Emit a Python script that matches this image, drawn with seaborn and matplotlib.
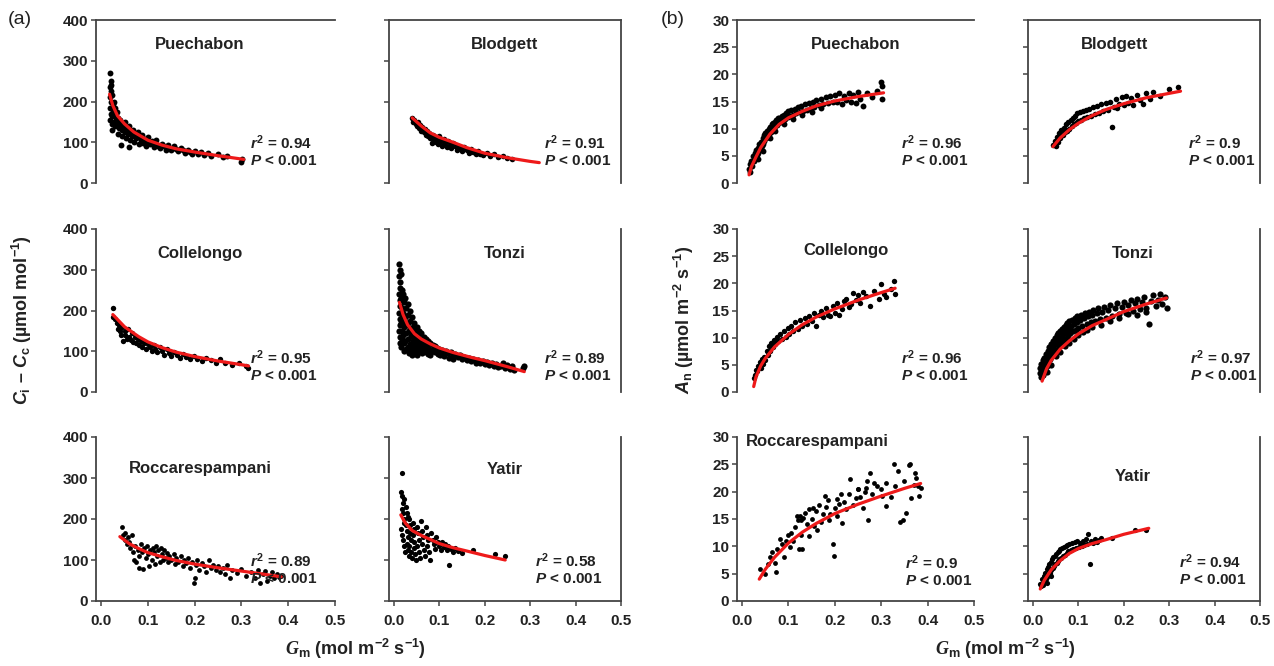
"""
Recreation of the Gm response panels: (a) Ci - Cc and (b) An against mesophyll
conductance for six sites, with fitted curves.
"""

import matplotlib
matplotlib.use("Agg")
import matplotlib.pyplot as plt
import seaborn as sns

# ── Data ────────────────────────────────────────────────────────────────────
SITES = ["Puechabon", "Blodgett", "Collelongo", "Tonzi", "Roccarespampani", "Yatir"]
R2_A = ["0.94", "0.91", "0.95", "0.89", "0.89", "0.58"]
R2_B = ["0.96", "0.9", "0.96", "0.97", "0.9", "0.94"]
X_TICKS = [0.0, 0.1, 0.2, 0.3, 0.4, 0.5]
X_TICK_LABELS = ["0.0", "0.1", "0.2", "0.3", "0.4", "0.5"]
Y_TICKS_A = [0, 100, 200, 300, 400]
Y_TICKS_B = [0, 5, 10, 15, 20, 25, 30]

# (a) Ci - Cc, Puechabon
pue_a_x = [0.020, 0.021, 0.019, 0.022, 0.020, 0.021, 0.019, 0.022, 0.020, 0.023, 0.022, 0.024, 0.025, 0.026,
           0.024, 0.027, 0.023, 0.028, 0.030, 0.030, 0.032, 0.029, 0.033, 0.035, 0.035, 0.037, 0.038, 0.036,
           0.040, 0.042, 0.044, 0.046, 0.045, 0.048, 0.050, 0.052, 0.053, 0.055, 0.058, 0.060, 0.062, 0.064,
           0.066, 0.068, 0.070, 0.072, 0.075, 0.078, 0.080, 0.082, 0.085, 0.088, 0.090, 0.093, 0.095, 0.098,
           0.100, 0.104, 0.108, 0.112, 0.115, 0.118, 0.122, 0.126, 0.130, 0.134, 0.138, 0.142, 0.146, 0.150,
           0.155, 0.160, 0.165, 0.170, 0.175, 0.180, 0.185, 0.190, 0.195, 0.200, 0.207, 0.213, 0.220, 0.228,
           0.235, 0.250, 0.260, 0.270, 0.300, 0.302, 0.043, 0.060]
pue_a_y = [270, 250, 235, 225, 210, 200, 185, 170, 155, 145, 240, 215, 195, 180,
           165, 150, 130, 200, 185, 170, 160, 140, 175, 160, 145, 150, 135, 120,
           155, 140, 130, 145, 115, 135, 125, 150, 110, 130, 120, 140, 105, 125,
           115, 130, 100, 118, 110, 125, 95, 112, 105, 118, 98, 108, 90, 103,
           112, 95, 102, 88, 98, 106, 92, 85, 96, 90, 82, 93, 86, 80,
           90, 84, 78, 86, 80, 74, 82, 77, 72, 79, 70, 76, 68, 73,
           66, 70, 64, 67, 52, 58, 93, 88]
pue_a_fit_x = [0.018, 0.025, 0.035, 0.05, 0.07, 0.1, 0.13, 0.16, 0.2, 0.25, 0.305]
pue_a_fit_y = [218, 190, 165, 145, 125, 105, 93, 84, 76, 67, 58]

# (a) Ci - Cc, Blodgett
blo_a_x = [0.040, 0.042, 0.045, 0.048, 0.050, 0.052, 0.055, 0.058, 0.060, 0.062, 0.065, 0.068, 0.070, 0.072,
           0.075, 0.078, 0.080, 0.083, 0.085, 0.088, 0.090, 0.093, 0.095, 0.098, 0.100, 0.103, 0.106, 0.110,
           0.113, 0.116, 0.120, 0.123, 0.126, 0.130, 0.134, 0.138, 0.142, 0.146, 0.150, 0.155, 0.160, 0.165,
           0.170, 0.175, 0.180, 0.185, 0.190, 0.197, 0.205, 0.212, 0.220, 0.230, 0.240, 0.250, 0.260]
blo_a_y = [160, 150, 155, 145, 140, 150, 135, 142, 128, 138, 125, 132, 118, 128,
           115, 122, 110, 98, 118, 105, 112, 100, 108, 95, 115, 103, 92, 108,
           98, 88, 102, 94, 85, 98, 90, 82, 92, 85, 78, 88, 80, 74,
           84, 76, 70, 78, 72, 68, 74, 66, 70, 64, 67, 62, 60]
blo_a_fit_x = [0.04, 0.06, 0.08, 0.1, 0.13, 0.16, 0.2, 0.25, 0.3, 0.32]
blo_a_fit_y = [160, 140, 123, 112, 100, 87, 73, 62, 53, 50]

# (a) Ci - Cc, Collelongo
col_a_x = [0.025, 0.026, 0.030, 0.033, 0.035, 0.038, 0.040, 0.042, 0.045, 0.047, 0.050, 0.052, 0.055, 0.058,
           0.060, 0.063, 0.066, 0.069, 0.072, 0.075, 0.078, 0.082, 0.085, 0.088, 0.092, 0.096, 0.100, 0.104,
           0.108, 0.112, 0.116, 0.120, 0.125, 0.130, 0.135, 0.140, 0.145, 0.150, 0.156, 0.162, 0.168, 0.175,
           0.182, 0.190, 0.198, 0.205, 0.215, 0.225, 0.235, 0.245, 0.255, 0.265, 0.280, 0.295, 0.310, 0.315]
col_a_y = [205, 185, 180, 170, 155, 165, 150, 140, 160, 125, 150, 140, 130, 155,
           135, 128, 145, 122, 135, 120, 130, 115, 125, 110, 120, 105, 118, 110,
           100, 115, 105, 98, 110, 100, 92, 105, 95, 88, 98, 90, 84, 94,
           86, 80, 88, 82, 76, 84, 78, 72, 80, 70, 66, 72, 65, 60]
col_a_fit_x = [0.025, 0.05, 0.08, 0.1, 0.13, 0.16, 0.2, 0.25, 0.3, 0.315]
col_a_fit_y = [190, 160, 136, 123, 109, 98, 87, 76, 67, 64]

# (a) Ci - Cc, Tonzi
ton_a_x = [0.012, 0.013, 0.012, 0.014, 0.013, 0.012, 0.014, 0.013, 0.012, 0.014, 0.013, 0.012, 0.014, 0.013,
           0.016, 0.017, 0.016, 0.018, 0.017, 0.016, 0.018, 0.017, 0.016, 0.020, 0.021, 0.020, 0.022, 0.021,
           0.020, 0.022, 0.021, 0.025, 0.026, 0.025, 0.027, 0.026, 0.025, 0.027, 0.030, 0.031, 0.030, 0.032,
           0.031, 0.030, 0.032, 0.035, 0.036, 0.035, 0.037, 0.036, 0.035, 0.040, 0.041, 0.040, 0.042, 0.041,
           0.040, 0.045, 0.046, 0.045, 0.047, 0.046, 0.050, 0.051, 0.050, 0.052, 0.051, 0.055, 0.056, 0.055,
           0.057, 0.060, 0.061, 0.060, 0.062, 0.065, 0.066, 0.065, 0.070, 0.071, 0.070, 0.075, 0.076, 0.075,
           0.080, 0.081, 0.080, 0.085, 0.086, 0.090, 0.091, 0.095, 0.096, 0.100, 0.101, 0.105, 0.110, 0.111,
           0.115, 0.120, 0.121, 0.125, 0.130, 0.131, 0.135, 0.140, 0.145, 0.150, 0.155, 0.160, 0.165, 0.170,
           0.175, 0.180, 0.185, 0.190, 0.195, 0.200, 0.205, 0.210, 0.215, 0.220, 0.225, 0.230, 0.235, 0.240,
           0.245, 0.250, 0.255, 0.260, 0.265, 0.285, 0.287]
ton_a_y = [315, 300, 285, 270, 255, 240, 225, 210, 195, 180, 165, 150, 135, 120,
           290, 250, 230, 205, 185, 170, 150, 130, 110, 240, 220, 195, 175, 160,
           140, 120, 100, 230, 205, 185, 165, 145, 125, 105, 215, 190, 170, 150,
           130, 110, 95, 200, 175, 155, 138, 118, 100, 185, 160, 142, 125, 108,
           92, 170, 150, 133, 116, 100, 160, 140, 123, 106, 92, 150, 132, 116,
           100, 145, 125, 110, 95, 135, 118, 104, 130, 112, 98, 124, 108, 94,
           120, 104, 90, 116, 100, 112, 97, 108, 94, 106, 92, 102, 98, 88,
           100, 95, 84, 97, 90, 80, 93, 86, 90, 82, 86, 78, 84, 76,
           80, 72, 78, 70, 75, 68, 73, 66, 70, 63, 68, 61, 65, 72,
           60, 66, 57, 63, 55, 58, 63]
ton_a_fit_x = [0.012, 0.02, 0.03, 0.045, 0.06, 0.08, 0.1, 0.13, 0.17, 0.2, 0.25, 0.287]
ton_a_fit_y = [220, 190, 165, 143, 130, 118, 108, 97, 85, 77, 62, 50]

# (a) Ci - Cc, Roccarespampani
roc_a_x = [0.045, 0.047, 0.050, 0.052, 0.055, 0.058, 0.060, 0.062, 0.065, 0.068, 0.070, 0.072, 0.075, 0.078,
           0.080, 0.082, 0.085, 0.088, 0.090, 0.092, 0.095, 0.098, 0.100, 0.102, 0.105, 0.108, 0.110, 0.112,
           0.115, 0.118, 0.120, 0.122, 0.125, 0.128, 0.130, 0.132, 0.135, 0.138, 0.140, 0.142, 0.145, 0.150,
           0.155, 0.158, 0.160, 0.165, 0.170, 0.175, 0.178, 0.182, 0.185, 0.190, 0.195, 0.198, 0.200, 0.202,
           0.205, 0.210, 0.215, 0.220, 0.225, 0.230, 0.235, 0.240, 0.245, 0.250, 0.255, 0.260, 0.265, 0.270,
           0.275, 0.280, 0.290, 0.300, 0.310, 0.320, 0.330, 0.335, 0.340, 0.345, 0.350, 0.355, 0.360, 0.365,
           0.370, 0.375, 0.380, 0.385]
roc_a_y = [180, 160, 150, 165, 140, 155, 145, 130, 160, 120, 100, 135, 95, 125,
           110, 80, 140, 120, 78, 130, 105, 135, 115, 85, 125, 100, 130, 120,
           90, 135, 110, 125, 95, 130, 115, 100, 125, 105, 118, 95, 110, 100,
           115, 90, 105, 95, 110, 85, 100, 92, 105, 80, 95, 45, 55, 88,
           100, 75, 92, 85, 70, 100, 80, 88, 75, 85, 70, 80, 65, 88,
           55, 75, 68, 78, 60, 70, 55, 75, 45, 65, 72, 50, 60, 70,
           55, 65, 58, 62]
roc_a_fit_x = [0.04, 0.06, 0.08, 0.1, 0.13, 0.16, 0.2, 0.25, 0.3, 0.35, 0.385]
roc_a_fit_y = [157, 140, 128, 118, 108, 99, 90, 81, 73, 65, 59]

# (a) Ci - Cc, Yatir
yat_a_x = [0.018, 0.016, 0.018, 0.020, 0.022, 0.017, 0.019, 0.021, 0.023, 0.016, 0.018, 0.020, 0.022, 0.024,
           0.026, 0.028, 0.030, 0.027, 0.029, 0.031, 0.028, 0.030, 0.032, 0.034, 0.036, 0.035, 0.037, 0.033,
           0.038, 0.040, 0.042, 0.044, 0.041, 0.045, 0.043, 0.046, 0.048, 0.050, 0.052, 0.054, 0.051, 0.055,
           0.057, 0.060, 0.062, 0.064, 0.061, 0.066, 0.068, 0.070, 0.072, 0.075, 0.073, 0.078, 0.080, 0.082,
           0.085, 0.088, 0.090, 0.093, 0.096, 0.100, 0.103, 0.106, 0.110, 0.113, 0.116, 0.120, 0.122, 0.125,
           0.130, 0.135, 0.140, 0.150, 0.175, 0.222, 0.245]
yat_a_y = [312, 265, 255, 240, 250, 225, 215, 200, 190, 175, 160, 150, 135, 120,
           230, 215, 205, 185, 170, 155, 140, 125, 110, 200, 185, 165, 150, 135,
           120, 105, 190, 175, 160, 145, 130, 115, 100, 180, 165, 150, 135, 120,
           105, 195, 170, 155, 140, 125, 110, 180, 160, 148, 135, 120, 100, 165,
           150, 140, 128, 155, 145, 135, 125, 145, 132, 140, 125, 135, 88, 128,
           120, 130, 122, 118, 125, 115, 110]
yat_a_fit_x = [0.015, 0.025, 0.04, 0.06, 0.08, 0.1, 0.13, 0.16, 0.2, 0.245]
yat_a_fit_y = [210, 190, 172, 160, 150, 140, 130, 122, 111, 100]

# (b) An, Puechabon
pue_b_x = [0.015, 0.016, 0.018, 0.020, 0.022, 0.024, 0.025, 0.027, 0.028, 0.030, 0.032, 0.034, 0.035, 0.037,
           0.038, 0.040, 0.042, 0.044, 0.045, 0.047, 0.048, 0.050, 0.052, 0.054, 0.055, 0.057, 0.058, 0.060,
           0.062, 0.064, 0.065, 0.067, 0.068, 0.070, 0.072, 0.074, 0.075, 0.077, 0.078, 0.080, 0.083, 0.085,
           0.088, 0.090, 0.093, 0.095, 0.098, 0.100, 0.103, 0.106, 0.110, 0.113, 0.116, 0.120, 0.124, 0.128,
           0.132, 0.136, 0.140, 0.144, 0.148, 0.152, 0.156, 0.160, 0.165, 0.170, 0.175, 0.180, 0.185, 0.190,
           0.195, 0.200, 0.205, 0.210, 0.215, 0.220, 0.225, 0.230, 0.235, 0.240, 0.245, 0.250, 0.255, 0.260,
           0.270, 0.280, 0.290, 0.300, 0.301, 0.302, 0.060, 0.070, 0.090, 0.110, 0.130, 0.150, 0.170, 0.045,
           0.035]
pue_b_y = [2.5, 3.5, 2.0, 4.0, 3.2, 5.0, 4.0, 5.5, 4.5, 6.0, 5.2, 6.5, 5.5, 7.2,
           6.2, 7.5, 6.8, 8.2, 7.2, 8.8, 7.8, 9.2, 8.2, 9.6, 8.6, 10.0, 9.0, 10.3,
           9.4, 10.8, 9.8, 11.0, 10.0, 11.3, 10.4, 11.6, 10.6, 11.9, 11.0, 12.0, 11.2, 12.4,
           11.5, 12.6, 11.8, 12.9, 12.1, 13.2, 12.3, 13.4, 12.6, 13.7, 12.8, 14.0, 13.0, 14.2,
           13.3, 14.5, 13.5, 14.7, 13.8, 15.0, 14.0, 15.2, 14.3, 15.5, 14.5, 15.8, 14.7, 16.0,
           14.9, 16.2, 15.0, 16.5, 14.6, 16.0, 15.2, 16.6, 15.0, 16.2, 14.8, 16.8, 15.5, 14.2,
           16.5, 15.8, 17.0, 18.5, 17.8, 15.5, 8.2, 9.6, 10.8, 11.8, 12.5, 13.0, 13.8, 5.8,
           4.5]
pue_b_fit_x = [0.015, 0.02, 0.03, 0.04, 0.06, 0.08, 0.1, 0.13, 0.16, 0.2, 0.25, 0.305]
pue_b_fit_y = [1.5, 3.0, 4.8, 6.5, 9.0, 10.8, 12.0, 13.2, 14.2, 15.1, 15.9, 16.6]

# (b) An, Blodgett
blo_b_x = [0.045, 0.048, 0.050, 0.052, 0.055, 0.058, 0.060, 0.062, 0.065, 0.068, 0.070, 0.072, 0.075, 0.078,
           0.080, 0.083, 0.085, 0.088, 0.090, 0.093, 0.095, 0.098, 0.100, 0.103, 0.106, 0.110, 0.113, 0.116,
           0.120, 0.124, 0.128, 0.132, 0.136, 0.140, 0.145, 0.150, 0.155, 0.160, 0.165, 0.170, 0.175, 0.178,
           0.182, 0.186, 0.190, 0.195, 0.200, 0.205, 0.210, 0.215, 0.220, 0.228, 0.235, 0.242, 0.250, 0.258,
           0.265, 0.280, 0.300, 0.320]
blo_b_y = [7.0, 7.8, 6.8, 8.5, 7.6, 9.2, 8.2, 9.8, 8.8, 10.2, 9.3, 10.8, 9.6, 11.2,
           10.0, 11.6, 10.4, 12.0, 10.8, 12.4, 11.0, 12.8, 11.4, 13.0, 11.6, 13.2, 11.9, 13.5,
           12.1, 13.7, 12.4, 14.0, 12.7, 14.2, 12.9, 14.6, 13.2, 14.8, 13.5, 15.0, 10.3, 14.0,
           15.4, 13.8, 14.6, 15.8, 14.3, 16.0, 14.8, 15.6, 14.4, 16.2, 15.2, 14.6, 16.5, 15.4,
           16.8, 16.0, 17.3, 17.6]
blo_b_fit_x = [0.044, 0.06, 0.08, 0.1, 0.13, 0.16, 0.2, 0.25, 0.3, 0.325]
blo_b_fit_y = [6.7, 8.3, 9.8, 11.0, 12.4, 13.5, 14.6, 15.7, 16.5, 16.9]

# (b) An, Collelongo
col_b_x = [0.025, 0.027, 0.030, 0.033, 0.035, 0.038, 0.040, 0.043, 0.045, 0.048, 0.050, 0.053, 0.055, 0.058,
           0.060, 0.063, 0.066, 0.069, 0.072, 0.075, 0.078, 0.082, 0.086, 0.090, 0.094, 0.098, 0.102, 0.106,
           0.110, 0.115, 0.120, 0.125, 0.130, 0.135, 0.140, 0.145, 0.150, 0.155, 0.160, 0.165, 0.170, 0.175,
           0.180, 0.185, 0.190, 0.195, 0.200, 0.205, 0.210, 0.215, 0.220, 0.225, 0.230, 0.235, 0.240, 0.245,
           0.250, 0.255, 0.260, 0.268, 0.275, 0.285, 0.295, 0.300, 0.305, 0.310, 0.320, 0.328, 0.330]
col_b_y = [2.5, 3.2, 4.0, 3.8, 4.8, 5.5, 4.5, 6.0, 5.2, 6.5, 5.8, 7.5, 6.8, 8.5,
           7.6, 9.0, 8.2, 9.6, 8.8, 10.2, 9.4, 10.6, 9.8, 11.2, 10.2, 11.8, 10.6, 12.2,
           11.2, 12.8, 11.6, 13.2, 12.2, 13.6, 12.6, 14.0, 13.0, 14.6, 12.2, 14.2, 15.0, 13.8,
           15.4, 14.2, 14.0, 15.8, 14.6, 16.4, 14.2, 15.2, 16.8, 17.2, 15.6, 16.2, 18.2, 17.0,
           17.8, 16.4, 18.4, 17.6, 15.8, 18.6, 17.2, 19.8, 18.0, 17.4, 19.0, 20.4, 18.0]
col_b_fit_x = [0.025, 0.03, 0.04, 0.05, 0.07, 0.1, 0.13, 0.16, 0.2, 0.25, 0.3, 0.33]
col_b_fit_y = [1.0, 2.8, 4.8, 6.2, 8.3, 10.6, 12.4, 13.8, 15.3, 16.9, 18.3, 19.1]

# (b) An, Tonzi
ton_b_x = [0.015, 0.016, 0.017, 0.018, 0.020, 0.021, 0.022, 0.023, 0.025, 0.026, 0.027, 0.028, 0.030, 0.031,
           0.032, 0.034, 0.035, 0.036, 0.038, 0.039, 0.040, 0.042, 0.043, 0.044, 0.046, 0.047, 0.048, 0.050,
           0.051, 0.052, 0.054, 0.055, 0.056, 0.058, 0.059, 0.060, 0.062, 0.063, 0.064, 0.066, 0.067, 0.068,
           0.070, 0.071, 0.072, 0.074, 0.075, 0.076, 0.078, 0.079, 0.080, 0.082, 0.084, 0.086, 0.088, 0.090,
           0.092, 0.094, 0.096, 0.098, 0.100, 0.103, 0.106, 0.109, 0.112, 0.115, 0.118, 0.121, 0.124, 0.127,
           0.130, 0.133, 0.136, 0.140, 0.144, 0.148, 0.152, 0.156, 0.160, 0.165, 0.170, 0.175, 0.180, 0.185,
           0.190, 0.195, 0.200, 0.205, 0.210, 0.215, 0.220, 0.225, 0.230, 0.235, 0.240, 0.245, 0.250, 0.255,
           0.260, 0.265, 0.270, 0.275, 0.280, 0.285, 0.290, 0.295, 0.030, 0.040, 0.050, 0.060, 0.070, 0.080,
           0.090, 0.100, 0.110, 0.120, 0.130, 0.150, 0.170, 0.190, 0.210, 0.230, 0.250]
ton_b_y = [3.5, 4.5, 2.8, 5.2, 3.8, 5.8, 3.2, 4.8, 6.2, 4.2, 5.4, 7.0, 4.8, 6.2,
           7.6, 5.4, 6.8, 8.2, 6.0, 7.4, 8.8, 6.6, 8.0, 9.4, 7.2, 8.6, 10.0, 7.6,
           9.0, 10.4, 8.0, 9.4, 10.8, 8.4, 9.8, 11.2, 8.8, 10.2, 11.6, 9.2, 10.6, 12.0,
           9.6, 11.0, 12.4, 10.0, 11.4, 12.7, 10.4, 11.8, 13.0, 10.8, 12.2, 13.3, 11.2, 12.6,
           13.6, 11.5, 12.9, 13.9, 11.8, 13.2, 14.2, 12.2, 13.6, 14.5, 12.5, 13.9, 14.8, 12.8,
           14.2, 15.1, 13.1, 14.5, 15.4, 13.4, 14.8, 15.7, 13.7, 15.1, 16.0, 14.0, 15.4, 16.3,
           14.3, 15.7, 16.6, 14.6, 16.0, 16.9, 14.9, 16.3, 17.2, 15.2, 16.6, 17.5, 15.5, 12.5,
           16.8, 17.8, 15.8, 17.0, 18.0, 16.2, 17.5, 15.4, 3.6, 5.0, 6.6, 7.4, 8.4, 9.0,
           9.8, 10.4, 11.0, 11.4, 12.0, 12.4, 13.0, 13.6, 14.4, 14.2, 14.8]
ton_b_fit_x = [0.02, 0.03, 0.04, 0.06, 0.08, 0.1, 0.13, 0.16, 0.2, 0.25, 0.294]
ton_b_fit_y = [2.0, 4.3, 5.8, 7.9, 9.4, 10.7, 12.2, 13.3, 14.8, 16.2, 17.3]

# (b) An, Roccarespampani
roc_b_x = [0.039, 0.056, 0.065, 0.074, 0.082, 0.091, 0.100, 0.104, 0.118, 0.122, 0.126, 0.135, 0.144, 0.153,
           0.161, 0.179, 0.188, 0.196, 0.198, 0.205, 0.214, 0.232, 0.249, 0.267, 0.271, 0.275, 0.284, 0.302,
           0.311, 0.328, 0.337, 0.346, 0.354, 0.363, 0.372, 0.381, 0.385, 0.050, 0.060, 0.070, 0.075, 0.085,
           0.095, 0.105, 0.110, 0.115, 0.120, 0.125, 0.128, 0.130, 0.132, 0.140, 0.145, 0.150, 0.155, 0.160,
           0.165, 0.170, 0.175, 0.180, 0.185, 0.190, 0.200, 0.205, 0.210, 0.215, 0.220, 0.225, 0.230, 0.240,
           0.245, 0.250, 0.255, 0.260, 0.265, 0.270, 0.280, 0.290, 0.300, 0.310, 0.320, 0.330, 0.340, 0.350,
           0.360, 0.365, 0.370, 0.375, 0.380]
roc_b_y = [5.9, 6.8, 9.0, 5.3, 11.4, 8.0, 12.1, 9.9, 15.5, 9.6, 14.8, 16.1, 11.8, 17.0,
           13.0, 19.2, 14.8, 10.5, 8.2, 18.6, 19.5, 22.3, 20.4, 20.7, 14.8, 23.5, 21.6, 19.2,
           17.3, 25.0, 23.8, 14.8, 16.1, 25.0, 23.5, 19.2, 20.7, 5.0, 8.0, 7.0, 9.5, 10.5,
           11.0, 12.5, 11.0, 13.5, 14.8, 15.5, 12.0, 9.5, 15.2, 14.0, 16.8, 15.0, 13.8, 16.5,
           17.5, 14.5, 16.0, 17.2, 18.5, 16.0, 17.0, 15.5, 17.8, 14.2, 18.2, 16.8, 19.5, 17.5,
           18.8, 20.5, 19.0, 17.0, 20.0, 22.0, 19.5, 21.0, 20.5, 21.5, 19.0, 21.0, 14.5, 22.0,
           24.8, 18.8, 21.2, 22.5, 21.0]
roc_b_fit_x = [0.037, 0.05, 0.07, 0.1, 0.13, 0.16, 0.2, 0.25, 0.3, 0.35, 0.385]
roc_b_fit_y = [4.0, 5.8, 8.0, 10.6, 12.6, 14.2, 16.0, 17.7, 19.2, 20.6, 21.5]

# (b) An, Yatir
yat_b_x = [0.016, 0.018, 0.020, 0.022, 0.024, 0.025, 0.027, 0.028, 0.030, 0.031, 0.033, 0.034, 0.036, 0.037,
           0.039, 0.040, 0.042, 0.043, 0.045, 0.046, 0.048, 0.049, 0.051, 0.052, 0.054, 0.055, 0.057, 0.058,
           0.060, 0.062, 0.064, 0.066, 0.068, 0.070, 0.072, 0.074, 0.076, 0.078, 0.080, 0.083, 0.086, 0.089,
           0.092, 0.095, 0.098, 0.101, 0.104, 0.107, 0.110, 0.113, 0.116, 0.119, 0.122, 0.125, 0.128, 0.132,
           0.136, 0.140, 0.145, 0.150, 0.175, 0.225, 0.250, 0.040, 0.030]
yat_b_y = [3.2, 2.8, 4.0, 3.0, 4.6, 3.4, 5.2, 4.0, 5.8, 4.4, 6.2, 4.8, 6.8, 5.2,
           7.2, 5.6, 7.6, 6.0, 8.0, 6.4, 8.3, 6.8, 8.6, 7.0, 8.9, 7.3, 9.2, 7.6,
           9.5, 7.9, 9.7, 8.2, 9.9, 8.5, 10.1, 8.8, 10.3, 9.1, 10.5, 9.3, 10.6, 9.5,
           10.8, 9.7, 11.0, 9.9, 10.7, 10.1, 11.0, 10.3, 11.3, 10.5, 12.2, 6.8, 11.0, 10.6,
           11.4, 10.8, 11.2, 11.5, 11.6, 13.0, 13.0, 4.6, 3.3]
yat_b_fit_x = [0.016, 0.025, 0.04, 0.06, 0.08, 0.1, 0.13, 0.16, 0.2, 0.255]
yat_b_fit_y = [2.2, 3.8, 5.7, 7.4, 8.7, 9.6, 10.5, 11.2, 12.2, 13.3]

# ── Style ───────────────────────────────────────────────────────────────────
sns.set_style("white")
plt.rcParams["font.family"] = ["Liberation Sans", "DejaVu Sans"]
plt.rcParams["mathtext.fontset"] = "custom"
plt.rcParams["mathtext.rm"] = "Liberation Sans:bold"
plt.rcParams["mathtext.it"] = "Liberation Sans:italic:bold"
plt.rcParams["mathtext.bf"] = "Liberation Sans:bold"
plt.rcParams["mathtext.cal"] = "Liberation Serif:italic:bold"

W, H = 1274, 666
SPINE = "#444444"
TXT = "#222222"
RED = "#ee1a1a"

fig = plt.figure(figsize=(W / 100, H / 100), dpi=100)

# pixel boxes: column lefts/widths, row tops/heights
col_left = [96, 389, 737, 1028]
col_width = [239, 232, 237, 232]
row_top = [20, 229, 437]
row_height = [163, 163, 164]

panels_a = [(pue_a_x, pue_a_y, pue_a_fit_x, pue_a_fit_y), (blo_a_x, blo_a_y, blo_a_fit_x, blo_a_fit_y),
            (col_a_x, col_a_y, col_a_fit_x, col_a_fit_y), (ton_a_x, ton_a_y, ton_a_fit_x, ton_a_fit_y),
            (roc_a_x, roc_a_y, roc_a_fit_x, roc_a_fit_y), (yat_a_x, yat_a_y, yat_a_fit_x, yat_a_fit_y)]
panels_b = [(pue_b_x, pue_b_y, pue_b_fit_x, pue_b_fit_y), (blo_b_x, blo_b_y, blo_b_fit_x, blo_b_fit_y),
            (col_b_x, col_b_y, col_b_fit_x, col_b_fit_y), (ton_b_x, ton_b_y, ton_b_fit_x, ton_b_fit_y),
            (roc_b_x, roc_b_y, roc_b_fit_x, roc_b_fit_y), (yat_b_x, yat_b_y, yat_b_fit_x, yat_b_fit_y)]

# marker size per site: the crowded clouds get bigger dots so they read as a band
dot_size = [18, 16, 15, 20, 12, 14]

# title positions (axes fraction) and stats text positions, per panel
title_pos_a = [(0.435, 0.85), (0.50, 0.85), (0.435, 0.85), (0.50, 0.85), (0.435, 0.81), (0.50, 0.80)]
title_pos_b = [(0.50, 0.85), (0.375, 0.85), (0.46, 0.87), (0.45, 0.85), (0.34, 0.97), (0.45, 0.76)]
stat_pos_a = [(0.645, 0.20), (0.67, 0.20), (0.645, 0.16), (0.67, 0.16), (0.645, 0.196), (0.63, 0.196)]
stat_pos_b = [(0.69, 0.20), (0.69, 0.20), (0.69, 0.16), (0.70, 0.16), (0.71, 0.184), (0.65, 0.19)]


def draw_panel(ax, data, row, right_col, yticks, title, tpos, r2, spos, size):
    x, y, fx, fy = data
    sns.scatterplot(x=x, y=y, ax=ax, color="black", s=size, linewidth=0, legend=False, zorder=2)
    sns.lineplot(x=fx, y=fy, ax=ax, color=RED, linewidth=2.3, estimator=None, zorder=3)
    ax.set_xlim(-0.011, 0.5)
    ax.set_ylim(yticks[0], yticks[-1])
    ax.set_yticks(yticks)
    ax.set_xlabel("")
    ax.set_ylabel("")

    for side in ["top", "right", "bottom", "left"]:
        ax.spines[side].set_color(SPINE)
        ax.spines[side].set_linewidth(1.3)
    ax.spines["top"].set_visible(row == 0)
    ax.spines["right"].set_visible(right_col)
    ax.spines["bottom"].set_visible(row == 2)

    ax.tick_params(axis="y", direction="out", length=3.5, width=1.1, color=SPINE,
                   labelsize=11, labelcolor=TXT, pad=2, left=True, labelleft=not right_col)
    if row == 2:
        ax.set_xticks(X_TICKS)
        ax.set_xticklabels(X_TICK_LABELS)
        ax.tick_params(axis="x", direction="out", length=3.5, width=1.1, color=SPINE,
                       labelsize=11, labelcolor=TXT, pad=6, bottom=True)
    else:
        ax.set_xticks([])
    for lab in ax.get_xticklabels() + ax.get_yticklabels():
        lab.set_fontweight("bold")

    ax.text(tpos[0], tpos[1], title, transform=ax.transAxes, ha="center", va="center",
            fontsize=12, fontweight="bold", color=TXT)
    ax.text(spos[0], spos[1], "$\\mathit{r}^{2}$ = " + r2 + "\n$\\mathit{P}$ < 0.001",
            transform=ax.transAxes, ha="left", va="center", fontsize=11,
            fontweight="bold", color=TXT, linespacing=1.2)


for i in range(6):
    row, sub = divmod(i, 2)
    for group, (panels, yticks, tpos, spos, r2s) in enumerate(
            [(panels_a, Y_TICKS_A, title_pos_a, stat_pos_a, R2_A),
             (panels_b, Y_TICKS_B, title_pos_b, stat_pos_b, R2_B)]):
        c = group * 2 + sub
        rect = [col_left[c] / W, 1 - (row_top[row] + row_height[row]) / H,
                col_width[c] / W, row_height[row] / H]
        ax = fig.add_axes(rect)
        draw_panel(ax, panels[i], row, sub == 1, yticks, SITES[i], tpos[i], r2s[i], spos[i], dot_size[i])

# ── Figure labels ───────────────────────────────────────────────────────────
fig.text(0.006, 0.97, "(a)", fontsize=14, color=TXT, va="center", ha="left")
fig.text(0.519, 0.97, "(b)", fontsize=14, color=TXT, va="center", ha="left")
fig.text(0.017, 0.52, "$\\mathit{C}_{\\mathrm{i}}$ – $\\mathit{C}_{\\mathrm{c}}$ (µmol mol$^{-1}$)",
         rotation=90, fontsize=13, fontweight="bold", color=TXT, ha="center", va="center")
fig.text(0.537, 0.52, "$\\mathit{A}_{\\mathrm{n}}$ (µmol m$^{-2}$ s$^{-1}$)",
         rotation=90, fontsize=13, fontweight="bold", color=TXT, ha="center", va="center")
gm_label = "$\\mathcal{G}_{\\mathrm{m}}$ (mol m$^{-2}$ s$^{-1}$)"
fig.text(0.279, 0.026, gm_label, fontsize=13, fontweight="bold", color=TXT, ha="center", va="center")
fig.text(0.789, 0.026, gm_label, fontsize=13, fontweight="bold", color=TXT, ha="center", va="center")

fig.savefig("out.png", dpi=100)
plt.close(fig)
print("Saved: out.png")
